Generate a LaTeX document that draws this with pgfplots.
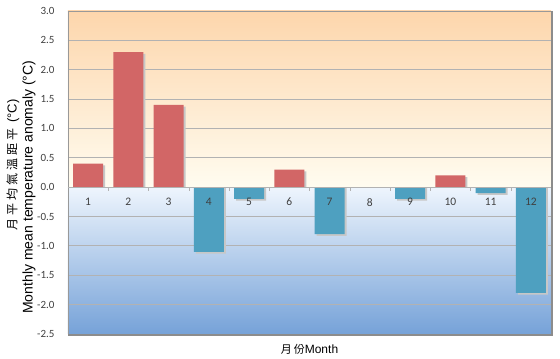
\documentclass[border=0pt]{standalone}
\usepackage{pgfplots}
\usepackage{pgfplotstable}
\pgfplotsset{compat=1.18}
\usepackage{fontspec}
\setmainfont{Liberation Sans}
\newfontfamily\cjk{Noto Sans CJK TC}
\newfontfamily\tickfont{Carlito}
\definecolor{redbar}{RGB}{210,102,102}
\definecolor{bluebar}{RGB}{78,160,192}
\definecolor{peach}{RGB}{253,214,172}
\definecolor{cream}{RGB}{255,252,240}
\definecolor{paleblue}{RGB}{238,245,253}
\definecolor{deepblue}{RGB}{118,162,216}
\pgfplotstableread{
m v
1 0.4
2 2.3
3 1.4
4 -1.1
5 -0.2
6 0.3
7 -0.8
8 0.0
9 -0.2
10 0.2
11 -0.1
12 -1.8
}\data
\pgfplotstableread{
m v
1 0.4
2 2.3
3 1.4
4 -1.1
5 -0.2
6 0.3
7 -0.8
9 -0.2
10 0.2
11 -0.1
12 -1.8
}\shadow
\begin{document}
\begin{tikzpicture}[x=1pt,y=1pt]
\begin{axis}[
  set layers,
  scale only axis,
  width=483pt, height=323pt,
  xmin=0.5, xmax=12.5,
  ymin=-2.5, ymax=3.0,
  ytick={-2.5,-2,...,3},
  /pgf/number format/.cd, fixed, fixed zerofill, precision=1, assume math mode=true,
  /pgfplots/.cd,
  yticklabel style={font=\tickfont\fontsize{11}{11}\selectfont, text=black!75, xshift=-10pt},
  xtick=\empty,
  ymajorgrids,
  grid style={draw=black!30, line width=0.8pt},
  axis line style={draw=black!40, line width=0.8pt},
  major tick length=0pt,
  xlabel={{\cjk\fontsize{11}{12}\selectfont 月\hspace{2pt}份}{\fontsize{12}{12}\selectfont Month}},
  xlabel style={at={(axis description cs:0.5,-0.02)}, anchor=north},
  bar width=30pt,
  clip=false,
]
\begin{pgfonlayer}{axis background}
\fill[top color=peach, bottom color=cream] (axis cs:0.5,3) rectangle (axis cs:12.5,0);
\fill[top color=paleblue, bottom color=deepblue] (axis cs:0.5,0) rectangle (axis cs:12.5,-2.5);
\end{pgfonlayer}
\addplot[ybar, fill=black!22, draw=none, bar shift=2pt] table[x=m, y expr={\thisrow{v}-0.03}] {\shadow};
\addplot[ybar, fill=redbar, draw=none] table[x=m, y expr={\thisrow{v}>0 ? \thisrow{v} : 0}] {\data};
\addplot[ybar, fill=bluebar, draw=none] table[x=m, y expr={\thisrow{v}<0 ? \thisrow{v} : 0}] {\data};
\draw[black!30, line width=0.8pt] (axis cs:0.5,0) -- (axis cs:12.5,0);
\pgfplotsinvokeforeach{1.5,2.5,...,11.5}{\draw[black!30] (axis cs:#1,0) -- (axis cs:#1,-0.06);}
\pgfplotsinvokeforeach{1,...,12}{\node[anchor=center, font=\tickfont\fontsize{11.5}{11.5}\selectfont, text=black!75, inner sep=0pt] at (axis cs:#1,-0.255) {#1};}
\draw[black!45, line width=1.5pt] ([xshift=1pt]axis cs:12.5,3) -- ([xshift=1pt,yshift=-1pt]axis cs:12.5,-2.5) -- ([yshift=-1pt]axis cs:0.5,-2.5);
\node[rotate=90, anchor=center, inner sep=0pt] at ([xshift=-39pt]axis cs:0.5,0.0) {\fontsize{14}{14}\selectfont Monthly mean temperature anomaly (°C)};
\node[rotate=90, anchor=center, inner sep=0pt] at ([xshift=-55pt]axis cs:0.5,0.38) {{\cjk\fontsize{12}{12}\selectfont 月\hspace{3pt}平\hspace{3pt}均\hspace{3pt}氣\hspace{3pt}溫\hspace{3pt}距\hspace{3pt}平\ \ }{\fontsize{13}{13}\selectfont (°C)}};
\end{axis}
\pgfresetboundingbox
\path ([shift={(-68pt,-25pt)}]current axis.south west) rectangle ([shift={(9pt,11pt)}]current axis.north east);
\end{tikzpicture}
\end{document}
